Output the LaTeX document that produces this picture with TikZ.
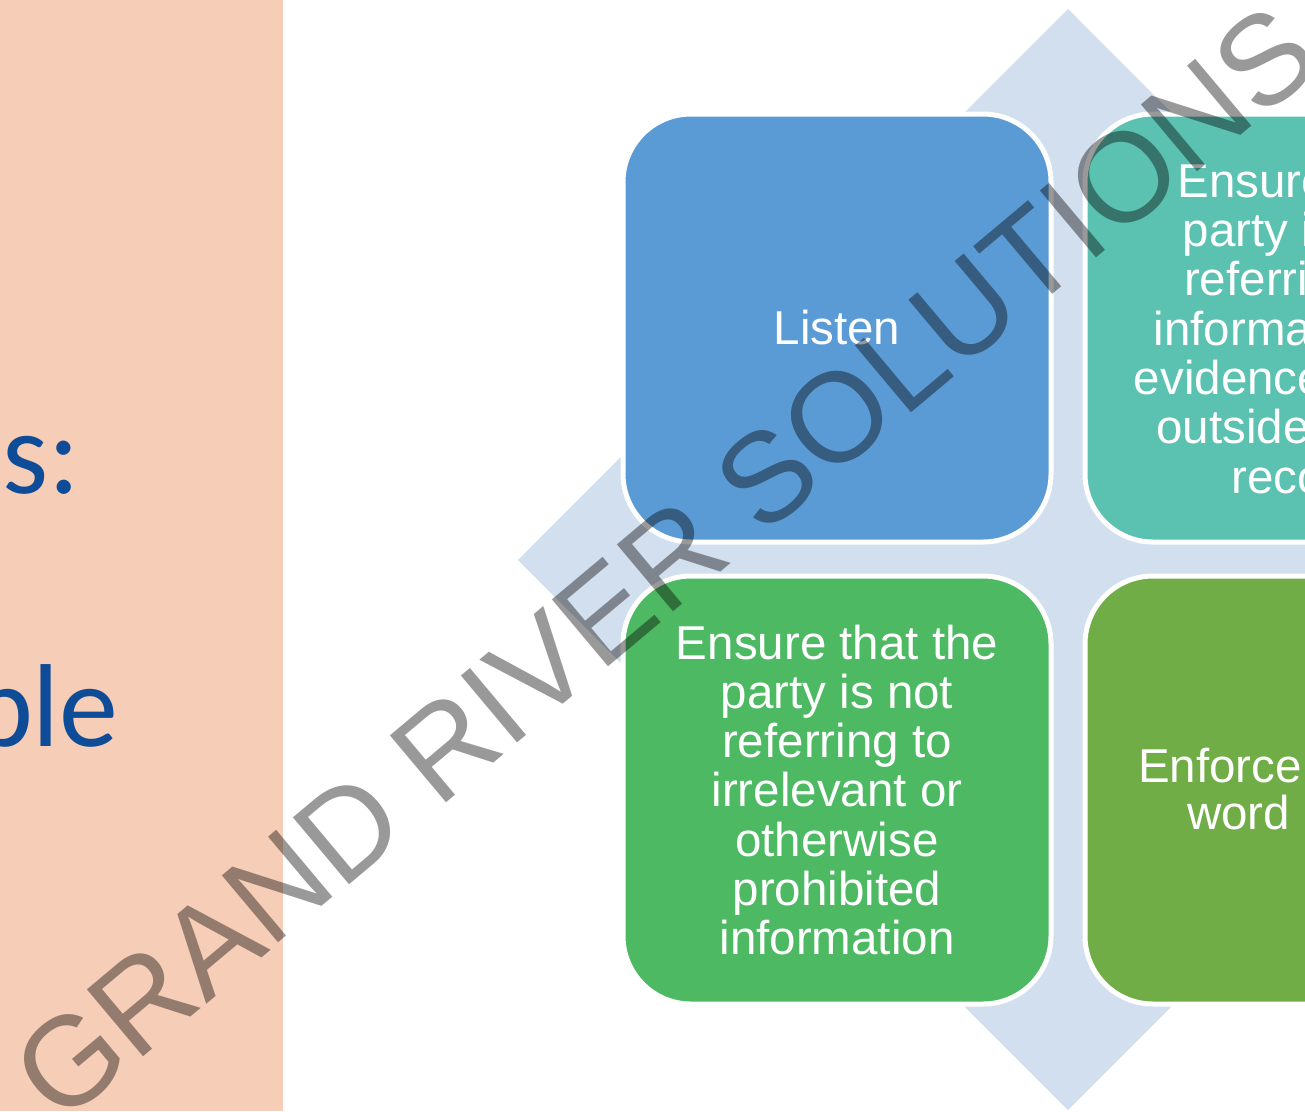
\documentclass[tikz,border=0pt]{standalone}
\usepackage{fontspec}
\setmainfont{Liberation Sans}
\newfontfamily\slidefont{Carlito}
\definecolor{panelpeach}{HTML}{F6CDB6}
\definecolor{titleblue}{HTML}{0F4C98}
\definecolor{diamondblue}{HTML}{D2DFEE}
\definecolor{tileblue}{HTML}{5B9BD5}
\definecolor{tileteal}{HTML}{5BC1B1}
\definecolor{tilegreen}{HTML}{4DB962}
\definecolor{tileolive}{HTML}{70AD47}
\begin{document}
\begin{tikzpicture}[x=1pt,y=-1pt,
  tile/.style={draw=white, line width=5pt, rounded corners=68pt,
    minimum width=428pt, minimum height=428pt, inner sep=0pt},
  tiletext/.style={text=white, font=\fontsize{47.5}{49.3}\selectfont, align=center},
  slidetext/.style={text=titleblue, font=\slidefont\fontsize{118}{118}\selectfont, inner sep=0pt},
  watermark/.style={font=\fontsize{127}{127}\selectfont, text=black, text opacity=0.4, inner sep=0pt}
]
\useasboundingbox (0,0) rectangle (1305,1111);
\clip (0,0) rectangle (1305,1111);
\fill[white] (0,0) rectangle (1305,1111);

% left title panel
\fill[panelpeach] (0,0) rectangle (283,1111);
\node[slidetext, anchor=base east] (titleA) at (80,493) {s:};
\node[slidetext, anchor=base east] (titleB) at (119,746) {ble};

% background diamond
\fill[diamondblue] (1068,9) -- (1618,560) -- (1068,1110) -- (518,560) -- cycle;

% four rounded tiles
\node[tile, fill=tileblue, tiletext] (listen) at (837,328) {Listen};
\node[tile, fill=tileteal, tiletext, text depth=0pt] (outside) at (1299,328)
  {Ensure that\\party is not\\referring to\\information or\\evidence that is\\outside of the\\record};
\node[tile, fill=tilegreen, tiletext] (irrelevant) at (837,790)
  {Ensure that the\\party is not\\referring to\\irrelevant or\\otherwise\\prohibited\\information};
\node[tile, fill=tileolive] (enforce) at (1299,790) {};
\node[tiletext, anchor=base west, inner sep=0pt] (enforceA) at (1138,782) {Enforce};
\node[tiletext, anchor=base west, inner sep=0pt] (enforceB) at (1187,829) {word};

% watermark
\node[watermark, rotate=40, anchor=base west] (mark) at (60,1127) {GRAND RIVER SOLUTIONS};
\end{tikzpicture}
\end{document}
